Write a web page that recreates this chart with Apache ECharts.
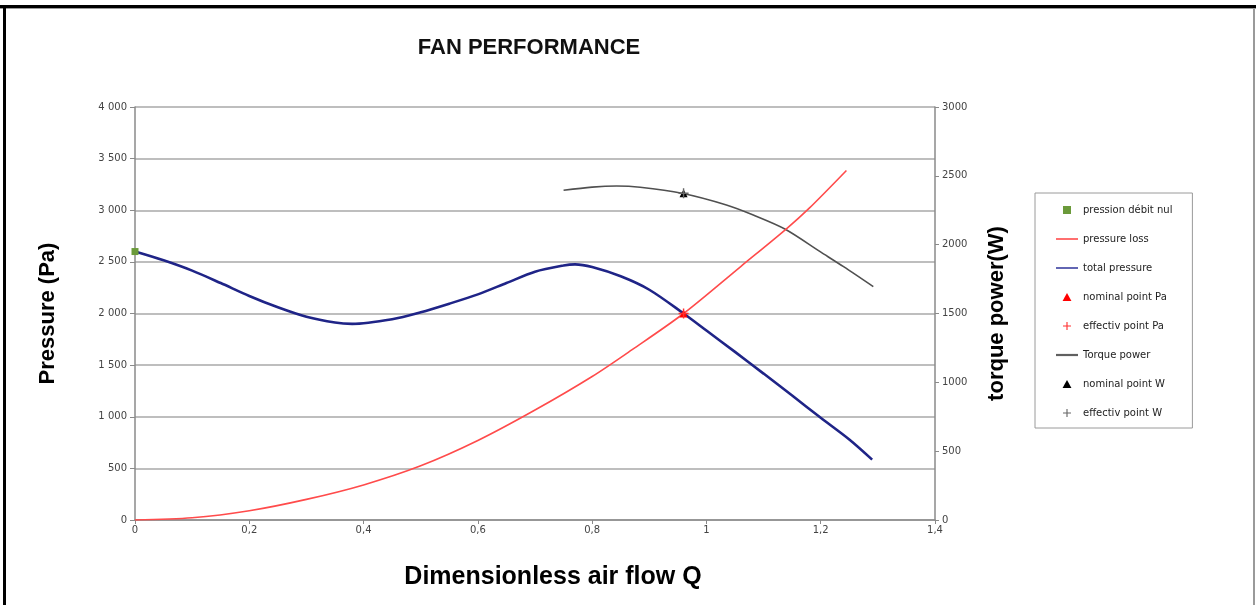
<!DOCTYPE html>
<html><head><meta charset="utf-8">
<script src="https://cdn.jsdelivr.net/npm/echarts@6/dist/echarts.min.js"></script>
<style>html,body{margin:0;padding:0;background:#fff}#c{width:1256px;height:605px}</style>
</head><body><div id="c"></div>
<script>
// ---- data ----
const lossQ  = [0, 0.1, 0.2, 0.3, 0.4, 0.5, 0.6, 0.7, 0.8, 0.87, 0.96, 1.06, 1.14, 1.18, 1.245];
const lossPa = [0, 22, 90, 200, 340, 525, 770, 1065, 1390, 1650, 2000, 2455, 2820, 3020, 3385];

const totalQ  = [0, 0.05, 0.1, 0.15, 0.2, 0.25, 0.3, 0.35, 0.38, 0.45, 0.5, 0.55, 0.6, 0.65, 0.7, 0.75, 0.77, 0.8, 0.85, 0.9, 0.96, 1.0, 1.05, 1.1, 1.15, 1.2, 1.25, 1.29];
const totalPa = [2600, 2515, 2415, 2295, 2170, 2060, 1968, 1912, 1900, 1945, 2012, 2095, 2185, 2295, 2405, 2465, 2476, 2450, 2360, 2230, 2000, 1835, 1628, 1418, 1205, 990, 780, 585];

const torqueQ = [0.75, 0.8, 0.843, 0.884, 0.957, 1.035, 1.082, 1.138, 1.199, 1.24, 1.292];
const torqueW = [2395, 2418, 2426, 2417, 2373, 2288, 2215, 2112, 1949, 1840, 1695];

const zeroFlowQ = 0, zeroFlowPa = 2600;
const nominalQ = 0.96, nominalPa = 2000, nominalW = 2373;

const legendNames = ['pression débit nul', 'pressure loss', 'total pressure', 'nominal point Pa',
  'effectiv point Pa', 'Torque power', 'nominal point W', 'effectiv point W'];

const pair = (xs, ys) => xs.map((x, i) => [x, ys[i]]);
const PLUS = 'path://M4.3,0H5.7V4.3H10V5.7H5.7V10H4.3V5.7H0V4.3H4.3Z';
const TRI = 'path://M5,0L10,9H0Z';
const SQUARE = 'path://M0,0H10V10H0Z';
const FONT = 'Liberation Sans, Arial, sans-serif';
const SMALL = 'DejaVu Sans, sans-serif';
const lineIcon = w => 'path://M0,0H22V' + w + 'H0Z';

const chart = echarts.init(document.getElementById('c'), null, {renderer: 'canvas'});
chart.setOption({
  animation: false,
  backgroundColor: '#fff',
  title: {
    text: 'FAN PERFORMANCE', left: 524, top: 32, textAlign: 'center',
    textStyle: {fontFamily: FONT, fontWeight: 'bold', fontSize: 22, color: '#111'}
  },
  grid: {left: 135, right: 321, top: 107, bottom: 85, containLabel: false},
  xAxis: {
    type: 'value', min: 0, max: 1.4, interval: 0.2,
    name: 'Dimensionless air flow Q', nameLocation: 'middle', nameGap: 45,
    nameTextStyle: {fontFamily: FONT, fontWeight: 'bold', fontSize: 25, color: '#000', padding: [0, 0, 0, 36]},
    axisLine: {lineStyle: {color: '#8a8a8a', width: 1.5}},
    axisTick: {show: true, length: 4, lineStyle: {color: '#8a8a8a'}},
    axisLabel: {fontFamily: SMALL, fontSize: 10, color: '#444', margin: 5,
      formatter: v => String(Math.round(v * 10) / 10).replace('.', ',')},
    splitLine: {show: false}
  },
  yAxis: [{
    type: 'value', min: 0, max: 4000, interval: 500, alignTicks: false,
    name: 'Pressure (Pa)', nameLocation: 'middle', nameGap: 76, nameRotate: 90,
    nameTextStyle: {fontFamily: FONT, fontWeight: 'bold', fontSize: 22, color: '#000'},
    axisLine: {show: true, lineStyle: {color: '#8a8a8a', width: 1.5}},
    axisTick: {show: true, length: 5, lineStyle: {color: '#8a8a8a'}},
    axisLabel: {fontFamily: SMALL, fontSize: 10, color: '#444', margin: 8,
      formatter: v => v >= 1000 ? Math.floor(v / 1000) + ' ' + String(v % 1000).padStart(3, '0') : String(v)},
    splitLine: {show: true, lineStyle: {color: '#a8a8a8', width: 1.5}}
  }, {
    type: 'value', min: 0, max: 3000, interval: 500, alignTicks: false, position: 'right',
    name: 'torque power(W)', nameLocation: 'middle', nameGap: 51, nameRotate: 90,
    nameTextStyle: {fontFamily: FONT, fontWeight: 'bold', fontSize: 22, color: '#000'},
    axisLine: {show: true, lineStyle: {color: '#8a8a8a', width: 1.5}},
    axisTick: {show: true, length: 4, lineStyle: {color: '#8a8a8a'}},
    axisLabel: {fontFamily: SMALL, fontSize: 10, color: '#444', margin: 7, formatter: v => String(v)},
    splitLine: {show: false}
  }],
  legend: {
    orient: 'vertical', left: 1035, top: 193,
    padding: [12, 20, 10, 21], itemGap: 19, itemWidth: 22, itemHeight: 8,
    borderColor: '#9a9a9a', borderWidth: 1,
    textStyle: {fontFamily: SMALL, fontSize: 10, color: '#222'},
    data: [
      {name: legendNames[0], icon: SQUARE},
      {name: legendNames[1], icon: lineIcon(1.6)},
      {name: legendNames[2], icon: lineIcon(1.6)},
      {name: legendNames[3], icon: TRI},
      {name: legendNames[4], icon: PLUS},
      {name: legendNames[5], icon: lineIcon(2.2)},
      {name: legendNames[6], icon: TRI},
      {name: legendNames[7], icon: PLUS}
    ]
  },
  graphic: [
    {type: 'rect', shape: {x: 0, y: 5, width: 1256, height: 3}, style: {fill: '#000'}, silent: true},
    {type: 'rect', shape: {x: 0, y: 8, width: 1256, height: 1}, style: {fill: '#9a9a9a'}, silent: true},
    {type: 'rect', shape: {x: 3, y: 5, width: 3, height: 600}, style: {fill: '#000'}, silent: true},
    {type: 'rect', shape: {x: 1253, y: 8, width: 2, height: 597}, style: {fill: '#9a9a9a'}, silent: true}
  ],
  series: [
    {name: legendNames[1], type: 'line', data: pair(lossQ, lossPa), symbol: 'none', smooth: 0.3,
      lineStyle: {color: '#ff4b4b', width: 1.6}, itemStyle: {color: '#ff4b4b'}, z: 3},
    {name: legendNames[2], type: 'line', data: pair(totalQ, totalPa), symbol: 'none', smooth: 0.3,
      lineStyle: {color: '#1f2487', width: 2.6}, itemStyle: {color: '#3a3fa0'}, z: 2},
    {name: legendNames[5], type: 'line', yAxisIndex: 1, data: pair(torqueQ, torqueW), symbol: 'none', smooth: 0.3,
      lineStyle: {color: '#505050', width: 1.6}, itemStyle: {color: '#606060'}, z: 2},
    {name: legendNames[0], type: 'scatter', data: [[zeroFlowQ, zeroFlowPa]], symbol: 'rect', symbolSize: 7,
      itemStyle: {color: '#6b9a3a', opacity: 1}, z: 5},
    {name: legendNames[3], type: 'scatter', data: [[nominalQ, nominalPa]], symbol: 'triangle', symbolSize: 8,
      itemStyle: {color: '#ff0000', opacity: 1}, z: 5},
    {name: legendNames[4], type: 'scatter', data: [[nominalQ, nominalPa]], symbol: PLUS, symbolSize: 10,
      itemStyle: {color: '#ff3030', opacity: 1}, z: 6},
    {name: legendNames[6], type: 'scatter', yAxisIndex: 1, data: [[nominalQ, nominalW]], symbol: 'triangle', symbolSize: 8,
      itemStyle: {color: '#000', opacity: 1}, z: 5},
    {name: legendNames[7], type: 'scatter', yAxisIndex: 1, data: [[nominalQ, nominalW]], symbol: PLUS, symbolSize: 10,
      itemStyle: {color: '#666', opacity: 1}, z: 6}
  ]
});
</script>
</body></html>
